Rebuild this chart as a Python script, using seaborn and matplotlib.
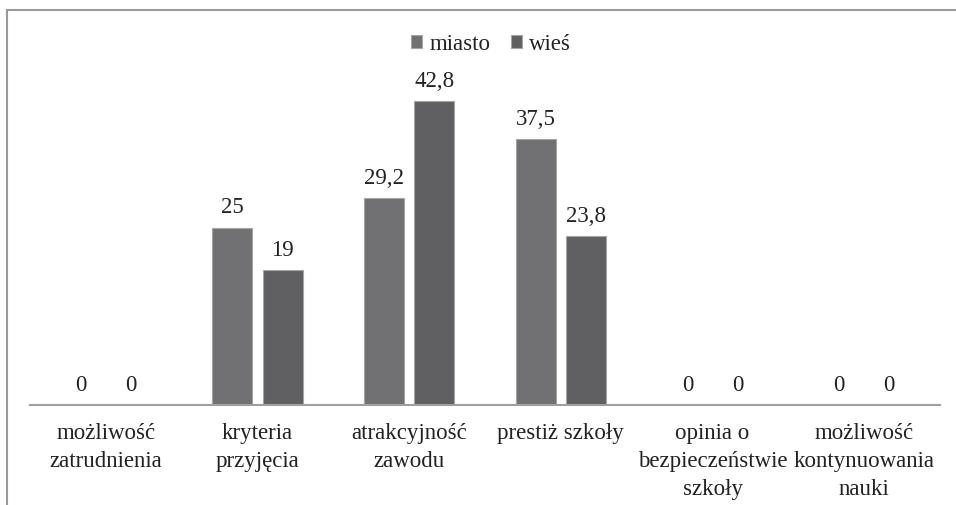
import matplotlib
matplotlib.use("Agg")
import matplotlib.pyplot as plt
from matplotlib.patches import Rectangle
import seaborn as sns
import pandas as pd

# data
categories = ["możliwość\nzatrudnienia", "kryteria\nprzyjęcia", "atrakcyjność\nzawodu",
              "prestiż szkoły", "opinia o\nbezpieczeństwie\nszkoły", "możliwość\nkontynuowania\nnauki"]
series = ["miasto", "wieś"]
miasto = [0, 25, 29.2, 37.5, 0, 0]
wies = [0, 19, 42.8, 23.8, 0, 0]
colors = ["#717173", "#606063"]

df = pd.DataFrame({
    "kategoria": categories * 2,
    "grupa": [series[0]] * len(categories) + [series[1]] * len(categories),
    "wartosc": miasto + wies,
})

sns.set_theme(style="white")
plt.rcParams["font.family"] = ["Liberation Serif", "DejaVu Serif"]

fig = plt.figure(figsize=(9.56, 5.05), dpi=100)
ax = fig.add_axes([30 / 956, 100 / 505, 910 / 956, 355 / 505])

sns.barplot(data=df, x="kategoria", y="wartosc", hue="grupa", palette=colors,
            width=0.66, gap=0.2, edgecolor="#a5a5a5", linewidth=0.8, ax=ax)

ax.set_ylim(0, 50)
ax.set_xlim(-0.5, 5.5)
ax.set_xlabel("")
ax.set_ylabel("")
ax.set_yticks([])
for s in ["top", "left", "right"]:
    ax.spines[s].set_visible(False)
ax.spines["bottom"].set_color("#a0a0a0")
ax.spines["bottom"].set_linewidth(1.5)
ax.tick_params(axis="x", length=0, pad=13, labelsize=16.5, colors="#222222")
for t in ax.get_xticklabels():
    t.set_linespacing(1.43)

# value labels with decimal comma
for cont in ax.containers:
    labs = [("%g" % b.get_height()).replace(".", ",") for b in cont]
    ax.bar_label(cont, labels=labs, padding=6.5, fontsize=16.5, color="#222222")

handles, labels = ax.get_legend_handles_labels()
ax.get_legend().remove()
fig.legend(handles, labels, loc="center", bbox_to_anchor=(491 / 956, 1 - 44 / 505),
           ncol=2, frameon=False, fontsize=16.5, handlelength=0.5, handleheight=0.5,
           handletextpad=0.3, columnspacing=0.9, labelcolor="#222222")

# frame around the chart (only top/left visible in the crop)
fig.patches.append(Rectangle((6.5 / 956, -0.1), 1.2, 1.1 - 9.5 / 505,
                             transform=fig.transFigure, fill=False,
                             edgecolor="#9a9a9a", linewidth=1.5))

fig.savefig("out.png", dpi=100)
